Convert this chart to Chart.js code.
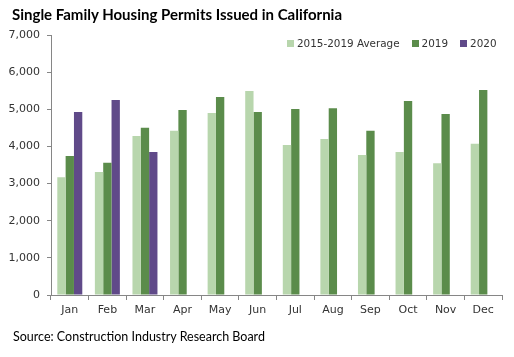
<!DOCTYPE html>
<html>
<head>
<meta charset="utf-8">
<script src="https://cdn.jsdelivr.net/npm/chart.js@4/dist/chart.umd.min.js"></script>
<style>
  html, body { margin: 0; padding: 0; background: #fff; }
  #wrap { position: relative; width: 514px; height: 357px; overflow: hidden; }
  canvas { position: absolute; left: 0; top: 0; }
  #title { position: absolute; left: 12px; top: 5px; font: bold 15px Lato, "Liberation Sans", sans-serif; color: #000; white-space: nowrap; }
  #source { position: absolute; left: 13px; top: 329px; font: 12.5px Lato, "Liberation Sans", sans-serif; color: #000; white-space: nowrap; }
  #legend { position: absolute; left: 287px; top: 37px; display: flex; align-items: center; font: 10.4px "DejaVu Sans", sans-serif; color: #333; white-space: nowrap; }
  #legend .item { display: flex; align-items: center; margin-right: 12px; }
  #legend .box { width: 7px; height: 7px; margin-right: 3px; }
</style>
</head>
<body>
<div id="wrap">
  <canvas id="c" width="514" height="357"></canvas>
  <div id="title">Single Family Housing Permits Issued in California</div>
  <div id="legend"></div>
  <div id="source">Source: Construction Industry Research Board</div>
</div>
<script>
const months = ['Jan','Feb','Mar','Apr','May','Jun','Jul','Aug','Sep','Oct','Nov','Dec'];
const seriesNames = ['2015-2019 Average','2019','2020'];
const avg2015_2019 = [3170,3310,4280,4420,4900,5490,4040,4200,3770,3850,3550,4070];
const permits2019 = [3740,3560,4500,4980,5330,4930,5010,5030,4420,5220,4870,5520];
const permits2020 = [4930,5250,3850,null,null,null,null,null,null,null,null,null];
const yTicks = [0,1000,2000,3000,4000,5000,6000,7000];
const colors = ['#b8d6ad','#5b8c4b','#604a89'];

const allSeries = [avg2015_2019, permits2019, permits2020];

const legend = document.getElementById('legend');
seriesNames.forEach((n, i) => {
  const item = document.createElement('div');
  item.className = 'item';
  const box = document.createElement('div');
  box.className = 'box';
  box.style.background = colors[i];
  const t = document.createElement('span');
  t.textContent = n;
  item.appendChild(box); item.appendChild(t);
  legend.appendChild(item);
});

const axisColor = '#868686';
new Chart(document.getElementById('c'), {
  type: 'bar',
  data: {
    labels: months,
    datasets: allSeries.map((d, i) => ({
      label: seriesNames[i],
      data: d,
      backgroundColor: colors[i],
      borderWidth: 0,
      barPercentage: 1.0,
      categoryPercentage: 0.665
    }))
  },
  options: {
    responsive: false,
    animation: false,
    devicePixelRatio: 1,
    layout: { padding: { left: 6, top: 35, right: 12, bottom: 32 } },
    plugins: { legend: { display: false }, title: { display: false }, tooltip: { enabled: false } },
    scales: {
      x: {
        afterFit: s => { s.height = 30; },
        grid: { display: true, offset: true, drawOnChartArea: false, drawTicks: true, tickLength: 5, color: axisColor, lineWidth: 1 },
        border: { display: true, color: axisColor, width: 1 },
        ticks: { color: '#333', padding: 4, font: { family: 'DejaVu Sans', size: 11 } }
      },
      y: {
        min: 0, max: 7000,
        afterFit: s => { s.width = 45; },
        afterBuildTicks: s => { s.ticks = yTicks.map(v => ({ value: v })); },
        grid: { display: true, drawOnChartArea: false, drawTicks: true, tickLength: 4, color: axisColor, lineWidth: 1 },
        border: { display: true, color: axisColor, width: 1 },
        ticks: { color: '#333', padding: 7, font: { family: 'DejaVu Sans', size: 11 },
          callback: v => v.toLocaleString('en-US') }
      }
    }
  }
});
</script>
</body>
</html>
